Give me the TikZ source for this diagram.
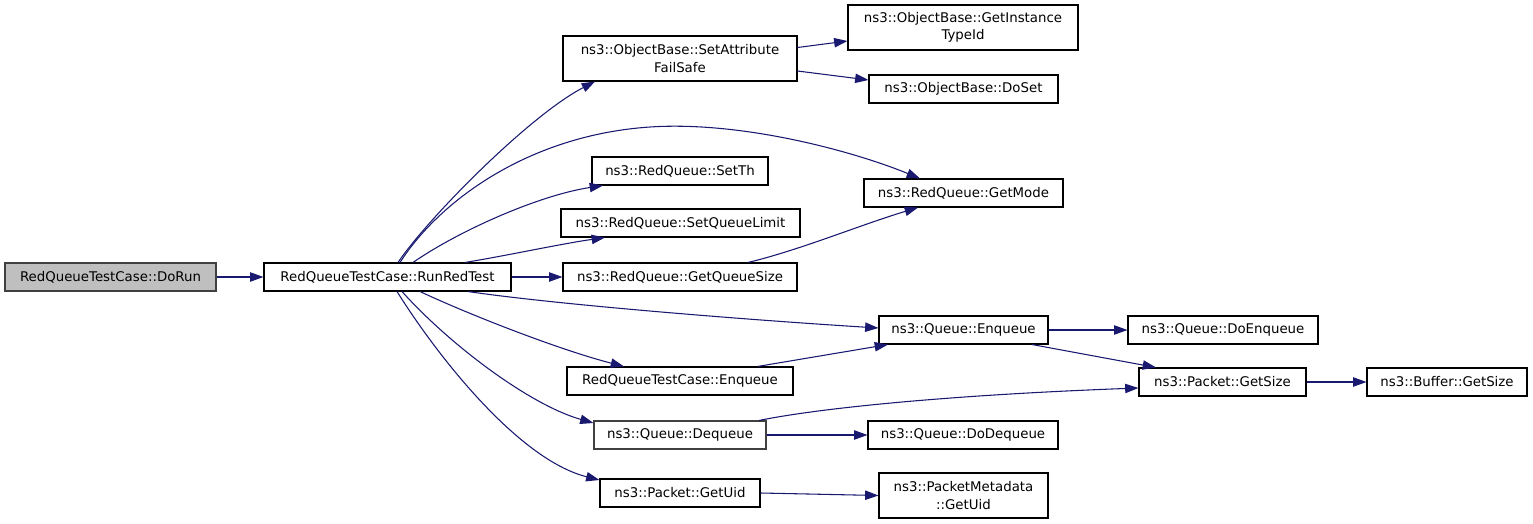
\documentclass[tikz,border=0pt]{standalone}
\usepackage{fontspec}
\setmainfont{DejaVu Sans}
\usetikzlibrary{arrows.meta,calc}
\definecolor{edgeblue}{HTML}{191970}
\definecolor{rootfill}{HTML}{BFBFBF}
\definecolor{greyborder}{HTML}{404040}
\begin{document}
\begin{tikzpicture}[x=0.75pt,y=-0.75pt,
  box/.style={draw=black,line width=0.8pt,rectangle,inner sep=0pt,align=center,
    font=\fontsize{10pt}{13pt}\selectfont,fill=white},
  sz/.style 2 args={minimum width=#1*0.75pt,minimum height=#2*0.75pt},
  root/.style={fill=rootfill,draw=greyborder},
  grey/.style={draw=greyborder},
  edge/.style={draw=edgeblue,line width=0.8pt,-{Triangle[length=10pt,width=7pt]}}]
\useasboundingbox (0,0) rectangle (1533,524);

% nodes
\node[box,root,sz={211}{28}] (dorun) at (110.5,277) {RedQueueTestCase::DoRun};
\node[box,sz={247}{28}] (run) at (387.5,277) {RedQueueTestCase::RunRedTest};
\node[box,sz={234}{45}] (sa) at (680,58.5) {ns3::ObjectBase::SetAttribute\\FailSafe};
\node[box,sz={230}{45}] (git) at (963,27.5) {ns3::ObjectBase::GetInstance\\TypeId};
\node[box,sz={189}{28}] (doset) at (963.5,89) {ns3::ObjectBase::DoSet};
\node[box,sz={199}{28}] (getmode) at (963.5,193) {ns3::RedQueue::GetMode};
\node[box,sz={176}{28}] (setth) at (680,171) {ns3::RedQueue::SetTh};
\node[box,sz={239}{28}] (sql) at (680.5,223) {ns3::RedQueue::SetQueueLimit};
\node[box,sz={234}{28}] (gqs) at (680,277) {ns3::RedQueue::GetQueueSize};
\node[box,sz={169}{28}] (qenq) at (963.5,330) {ns3::Queue::Enqueue};
\node[box,sz={190}{28}] (doenq) at (1223,330) {ns3::Queue::DoEnqueue};
\node[box,sz={226}{28}] (rqenq) at (680,381) {RedQueueTestCase::Enqueue};
\node[box,sz={167}{28}] (getsize) at (1222.5,382) {ns3::Packet::GetSize};
\node[box,sz={160}{28}] (bufsize) at (1447,382) {ns3::Buffer::GetSize};
\node[box,grey,sz={172}{28}] (deq) at (680,435) {ns3::Queue::Dequeue};
\node[box,sz={190}{28}] (dodeq) at (963,435) {ns3::Queue::DoDequeue};
\node[box,sz={160}{28}] (getuid) at (680,493) {ns3::Packet::GetUid};
\node[box,sz={169}{45}] (pmuid) at (963.5,495.5) {ns3::PacketMetadata\\::GetUid};

% edges
\draw[edge] (dorun.east) -- (run.west);
\draw[edge] ($(run.north)+(10.5,0)$) .. controls (428,218) and (530,115) .. ($(sa.south)+(-85,0)$);
\draw[edge] ($(run.north)+(12.5,0)$) .. controls (440,200) and (530,135) .. (650,127)
  .. controls (740,121) and (850,150) .. ($(getmode.north)+(-43.5,0)$);
\draw[edge] ($(run.north)+(25.5,0)$) .. controls (460,230) and (540,195) .. ($(setth.south)+(-77,0)$);
\draw[edge] ($(run.north)+(77.5,0)$) .. controls (510,255) and (560,244) .. ($(sql.south)+(-75.5,0)$);
\draw[edge] (run.east) -- (gqs.west);
\draw[edge] ($(gqs.north)+(68,0)$) .. controls (800,250) and (860,225) .. ($(getmode.south)+(-45.5,0)$);
\draw[edge] ($(run.south)+(80.5,0)$) .. controls (560,305) and (750,320) .. ($(qenq.west)+(0,-2)$);
\draw[edge] ($(run.south)+(32.5,0)$) .. controls (470,315) and (560,350) .. ($(rqenq.north)+(-56,0)$);
\draw[edge] ($(run.south)+(14.5,0)$) .. controls (450,345) and (530,405) .. ($(deq.west)+(0,-12)$);
\draw[edge] ($(run.south)+(9.5,0)$) .. controls (440,360) and (520,460) .. ($(getuid.west)+(0,-13)$);
\draw[edge] ($(sa.east)+(0,-11)$) -- ($(git.west)+(0,13.5)$);
\draw[edge] ($(sa.east)+(0,12.5)$) -- ($(doset.west)+(0,-9)$);
\draw[edge] (qenq.east) -- (doenq.west);
\draw[edge] ($(qenq.south)+(68.5,0)$) -- ($(getsize.north)+(-66.5,0)$);
\draw[edge] ($(rqenq.north)+(77.5,0)$) -- ($(qenq.south)+(-75.5,0)$);
\draw[edge] ($(deq.north)+(79,0)$) .. controls (820,408) and (950,395) .. ($(getsize.west)+(0,6)$);
\draw[edge] (deq.east) -- (dodeq.west);
\draw[edge] (getsize.east) -- (bufsize.west);
\draw[edge] (getuid.east) -- (pmuid.west);
\end{tikzpicture}
\end{document}
